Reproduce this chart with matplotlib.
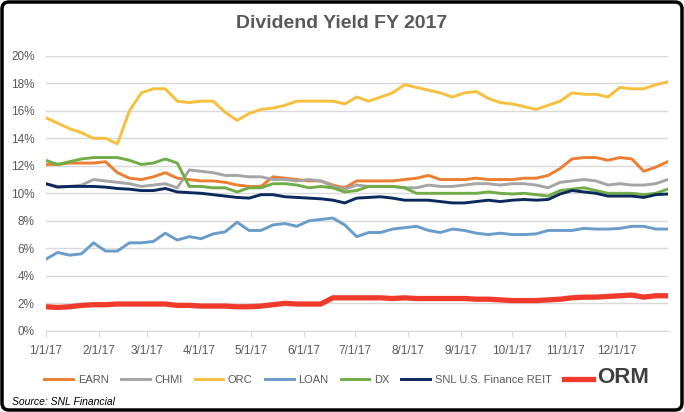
import matplotlib
matplotlib.use("Agg")
import matplotlib.pyplot as plt
import matplotlib.dates as mdates
from matplotlib.patches import FancyBboxPatch
import pandas as pd

plt.rcParams['font.family'] = ['Liberation Sans', 'DejaVu Sans']

# weekly samples (yield, %)
dates = pd.date_range("2017-01-01", periods=53, freq="7D")

earn = [12.1, 12.1, 12.2, 12.2, 12.2, 12.3, 11.5, 11.1, 11.0, 11.2, 11.5, 11.1, 11.0, 10.9,
        10.9, 10.8, 10.6, 10.5, 10.5, 11.2, 11.1, 11.0, 10.9, 10.9, 10.6, 10.4, 10.9, 10.9,
        10.9, 10.9, 11.0, 11.1, 11.3, 11.0, 11.0, 11.0, 11.1, 11.0, 11.0, 11.0, 11.1, 11.1,
        11.3, 11.8, 12.5, 12.6, 12.6, 12.4, 12.6, 12.5, 11.6, 11.9, 12.3]
chmi = [10.7, 10.5, 10.5, 10.6, 11.0, 10.9, 10.8, 10.7, 10.5, 10.6, 10.7, 10.4, 11.7, 11.6,
        11.5, 11.3, 11.3, 11.2, 11.2, 11.0, 11.0, 10.9, 11.0, 10.9, 10.5, 10.3, 10.6, 10.5,
        10.5, 10.5, 10.4, 10.4, 10.6, 10.5, 10.5, 10.6, 10.7, 10.7, 10.6, 10.7, 10.7, 10.6,
        10.4, 10.8, 10.9, 11.0, 10.9, 10.6, 10.7, 10.6, 10.6, 10.7, 11.0]
orc = [15.5, 15.1, 14.7, 14.4, 14.0, 14.0, 13.6, 16.0, 17.3, 17.6, 17.6, 16.7, 16.6, 16.7,
       16.7, 15.9, 15.3, 15.8, 16.1, 16.2, 16.4, 16.7, 16.7, 16.7, 16.7, 16.5, 17.0, 16.7,
       17.0, 17.3, 17.9, 17.7, 17.5, 17.3, 17.0, 17.3, 17.4, 16.9, 16.6, 16.5, 16.3, 16.1,
       16.4, 16.7, 17.3, 17.2, 17.2, 17.0, 17.7, 17.6, 17.6, 17.9, 18.1]
loan = [5.2, 5.7, 5.5, 5.6, 6.4, 5.8, 5.8, 6.4, 6.4, 6.5, 7.1, 6.6, 6.85, 6.7,
        7.05, 7.2, 7.9, 7.3, 7.3, 7.7, 7.8, 7.6, 8.0, 8.1, 8.2, 7.7, 6.85, 7.15,
        7.15, 7.4, 7.5, 7.6, 7.3, 7.15, 7.4, 7.3, 7.1, 7.0, 7.1, 7.0, 7.0, 7.05,
        7.3, 7.3, 7.3, 7.45, 7.4, 7.4, 7.45, 7.6, 7.6, 7.4, 7.4]
dx = [12.4, 12.1, 12.3, 12.5, 12.6, 12.6, 12.6, 12.4, 12.1, 12.2, 12.5, 12.2, 10.5, 10.5,
      10.4, 10.4, 10.1, 10.4, 10.4, 10.7, 10.7, 10.6, 10.4, 10.5, 10.4, 10.1, 10.2, 10.5,
      10.5, 10.5, 10.4, 10.0, 10.0, 10.0, 10.0, 10.0, 10.0, 10.1, 10.0, 9.95, 10.0, 9.9,
      9.8, 10.2, 10.3, 10.4, 10.2, 10.0, 10.0, 10.0, 9.9, 10.0, 10.3]
snl = [10.7, 10.45, 10.5, 10.5, 10.5, 10.45, 10.35, 10.3, 10.2, 10.2, 10.35, 10.1, 10.05, 10.0,
       9.9, 9.8, 9.7, 9.65, 9.9, 9.9, 9.75, 9.7, 9.65, 9.6, 9.5, 9.3, 9.65, 9.7,
       9.75, 9.65, 9.5, 9.5, 9.5, 9.4, 9.3, 9.3, 9.4, 9.5, 9.4, 9.5, 9.55, 9.5,
       9.55, 9.95, 10.2, 10.1, 10.0, 9.8, 9.8, 9.8, 9.7, 9.9, 9.95]
orm = [1.75, 1.7, 1.75, 1.85, 1.9, 1.9, 1.95, 1.95, 1.95, 1.95, 1.95, 1.85, 1.85, 1.8,
       1.8, 1.8, 1.75, 1.75, 1.8, 1.9, 2.0, 1.95, 1.95, 1.95, 2.4, 2.4, 2.4, 2.4,
       2.4, 2.35, 2.4, 2.35, 2.35, 2.35, 2.35, 2.35, 2.3, 2.3, 2.25, 2.2, 2.2, 2.2,
       2.25, 2.3, 2.4, 2.45, 2.45, 2.5, 2.55, 2.6, 2.45, 2.55, 2.55]

names = ["EARN", "CHMI", "ORC", "LOAN", "DX", "SNL U.S. Finance REIT", "ORM"]
series = [earn, chmi, orc, loan, dx, snl, orm]
colors = ["#ED7D31", "#A5A5A5", "#F7BF3E", "#6A9CC9", "#70AD47", "#0B2A5B", "#F03B2C"]
widths = [2.1, 2.1, 2.1, 2.1, 2.1, 2.1, 3.8]

fig = plt.figure(figsize=(6.84, 4.12), dpi=100)
ax = fig.add_axes([0.0668, 0.197, 0.9094, 0.6676])

for name, vals, c, lw in zip(names, series, colors, widths):
    ax.plot(dates, vals, color=c, lw=lw, label=name, solid_joinstyle="round")

ax.set_ylim(0, 20)
ax.set_yticks(range(0, 21, 2))
ax.set_yticklabels([f"{v}%" for v in range(0, 21, 2)])
ax.set_xlim(pd.Timestamp("2017-01-01"), pd.Timestamp("2017-12-31"))
ax.xaxis.set_major_locator(mdates.MonthLocator())
ax.xaxis.set_major_formatter(plt.FuncFormatter(lambda x, p: f"{mdates.num2date(x).month}/1/17"))
ax.grid(axis="y", color="#D9D9D9", lw=1)
ax.set_axisbelow(True)
for s in ["top", "right", "left"]:
    ax.spines[s].set_visible(False)
ax.spines["bottom"].set_color("#D9D9D9")
ax.tick_params(axis="y", length=0, pad=8, labelsize=8.5, labelcolor="#595959")
ax.tick_params(axis="x", length=4, color="#D9D9D9", pad=6, labelsize=8.5, labelcolor="#595959")

fig.text(0.5, 0.942, "Dividend Yield FY 2017", ha="center", va="center",
         fontsize=14, fontweight="bold", color="#595959")

leg = fig.legend(loc="center", bbox_to_anchor=(0.507, 0.083), ncol=7, frameon=False,
                 fontsize=8, handlelength=2.6, columnspacing=1.1, handletextpad=0.4)
for t in leg.get_texts():
    t.set_color("#595959")
leg.get_texts()[-1].set_fontsize(16)
leg.get_texts()[-1].set_fontweight("bold")
leg.get_texts()[-1].set_color("#404040")

fig.text(0.018, 0.025, "Source: SNL Financial", fontsize=7.5, style="italic", ha="left", va="center")

fig.add_artist(FancyBboxPatch((0.02, 0.02), 6.80, 4.08, boxstyle="round,pad=0,rounding_size=0.07",
                              transform=fig.dpi_scale_trans, fill=False, lw=2.5, ec="black"))

fig.savefig("out.png", dpi=100)
